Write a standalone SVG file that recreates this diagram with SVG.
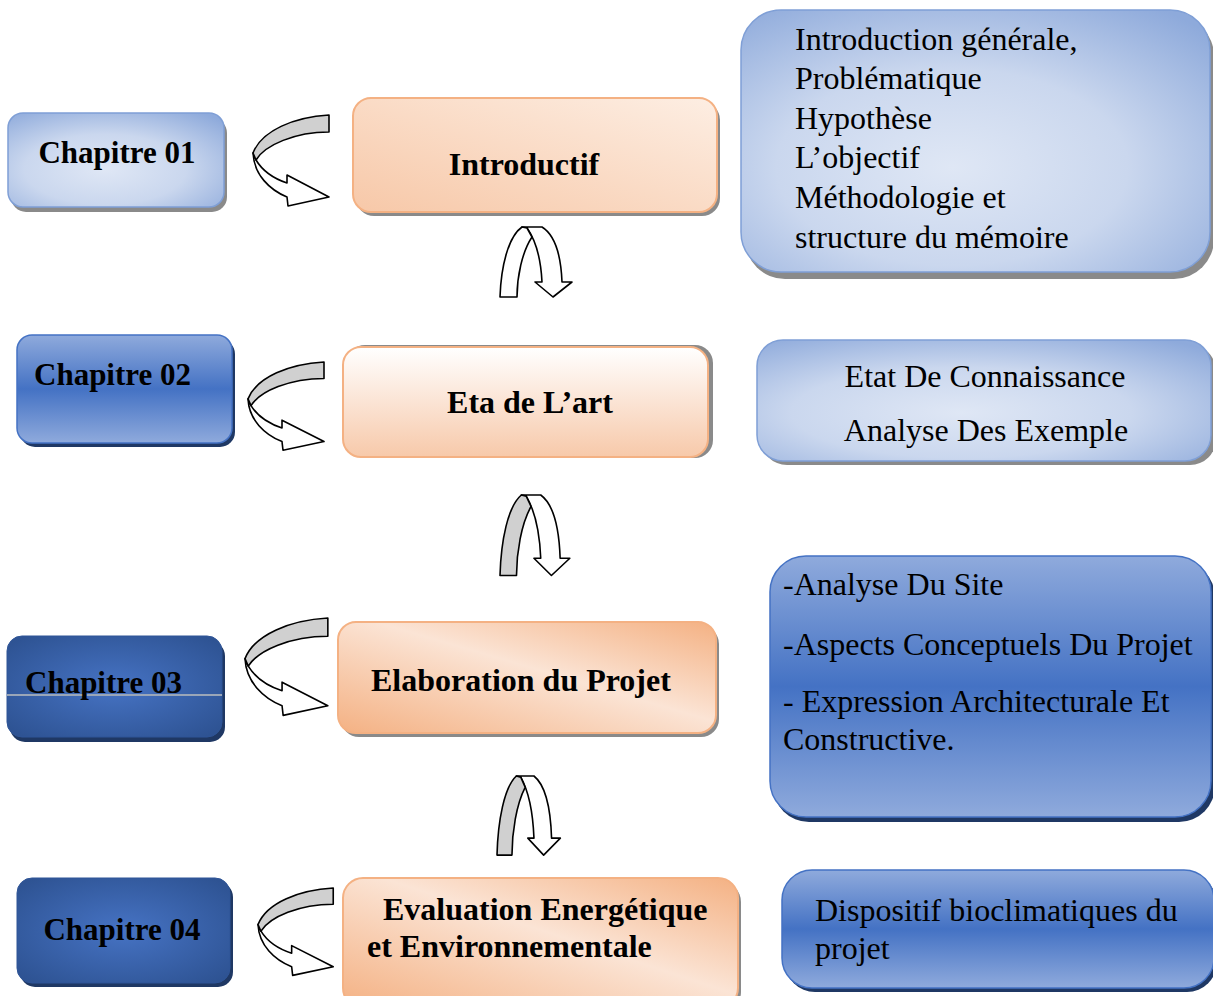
<svg xmlns="http://www.w3.org/2000/svg" width="1213" height="996" viewBox="0 0 1213 996">
<defs>
<radialGradient id="gLight" cx="45%" cy="60%" r="75%">
<stop offset="0" stop-color="#dfe7f5"/><stop offset="0.5" stop-color="#cad7ee"/><stop offset="1" stop-color="#8eaadb"/>
</radialGradient>
<linearGradient id="gMed" x1="0" y1="0" x2="0" y2="1">
<stop offset="0" stop-color="#8faadc"/><stop offset="0.5" stop-color="#4472c4"/><stop offset="1" stop-color="#8faadc"/>
</linearGradient>
<radialGradient id="gDark" cx="50%" cy="50%" r="65%">
<stop offset="0" stop-color="#4673c4"/><stop offset="1" stop-color="#2e5393"/>
</radialGradient>
<linearGradient id="gOr1" x1="1" y1="0" x2="0" y2="1">
<stop offset="0" stop-color="#fdeee3"/><stop offset="1" stop-color="#f7c8a8"/>
</linearGradient>
<linearGradient id="gOr2" x1="0" y1="0" x2="0" y2="1">
<stop offset="0" stop-color="#ffffff"/><stop offset="1" stop-color="#f7c9aa"/>
</linearGradient>
<linearGradient id="gOr3" x1="0" y1="1" x2="1" y2="0">
<stop offset="0" stop-color="#f4b183"/><stop offset="0.55" stop-color="#fbe4d5"/><stop offset="1" stop-color="#f4b183"/>
</linearGradient>
<g id="larrow">
<path class="wh" d="M0,38 C1,60 17,75 34,82 L35,91 L76,82 L34,60 L34,68 C19,63 9,55 3,45 Z"/>
<path class="gr" d="M76,0 C42,2 9,15 0,38 L3,45 C12,30 42,17 76,17 Z"/>
</g>
<g id="varrowW">
<path class="wh" d="M22,0 L42,0 C55,8 61,30 62,55 L72,55 L53,70 L35,55 L42,55 C41,35 37,15 27,1 Z"/>
<path class="wh" d="M0,70 L17,70 C17,50 22,25 32,10 L27,1 L22,0 C8,10 1,40 0,70 Z"/>
</g>
<g id="varrowG">
<path class="wh" d="M22,0 L42,0 C55,8 61,30 62,55 L72,55 L53,70 L35,55 L42,55 C41,35 37,15 27,1 Z"/>
<path class="gr" d="M0,70 L17,70 C17,50 22,25 32,10 L27,1 L22,0 C8,10 1,40 0,70 Z"/>
</g>
</defs>
<style>
.wh{fill:#ffffff;stroke:#000;stroke-width:1.6;stroke-linejoin:round;vector-effect:non-scaling-stroke}
.gr{fill:#d0d0d0;stroke:#000;stroke-width:1.6;stroke-linejoin:round;vector-effect:non-scaling-stroke}
.light{fill:url(#gLight);stroke:#7f9fd6;stroke-width:1.5}
.med{fill:url(#gMed);stroke:#4472c4;stroke-width:1.5}
.dark{fill:url(#gDark);stroke:#2f5597;stroke-width:1}
.shg{fill:#8a8a8a}
.shb{fill:#1f3864}
.or{stroke:#f4b183;stroke-width:2}
.b{font-family:"Liberation Serif","Times New Roman",serif;font-weight:bold;font-size:32px;fill:#000}
.c{font-family:"Liberation Serif","Times New Roman",serif;font-weight:bold;font-size:31px;fill:#000}
.t{font-family:"Liberation Serif","Times New Roman",serif;font-size:32px;fill:#000}
</style>
<rect width="1213" height="996" fill="#ffffff"/>

<g id="connectors">
<use href="#larrow" transform="translate(253,115)"/>
<use href="#larrow" transform="translate(248,362) scale(1.0,0.97)"/>
<use href="#larrow" transform="translate(245,618) scale(1.09,1.07)"/>
<use href="#larrow" transform="translate(258,888) scale(0.99,0.96)"/>
<use href="#varrowW" transform="translate(500,227)"/>
<use href="#varrowG" transform="translate(500,495) scale(0.97,1.15)"/>
<use href="#varrowG" transform="translate(497,776) scale(0.88,1.13)"/>
</g>

<g id="ch01">
<rect class="shg" x="11" y="118" width="216" height="94" rx="15"/>
<rect class="light" x="8" y="113" width="216" height="94" rx="15"/>
<text class="c" x="117" y="163" text-anchor="middle">Chapitre 01</text>
</g>
<g id="ch02">
<rect class="shb" x="20" y="339" width="215" height="108" rx="15"/>
<rect class="med" x="17" y="335" width="215" height="108" rx="15"/>
<text class="c" x="34" y="385">Chapitre 02</text>
</g>
<g id="ch03">
<rect class="shb" x="10" y="641" width="215" height="101" rx="15"/>
<rect class="dark" x="7" y="636" width="215" height="101" rx="15"/>
<line x1="7" y1="695" x2="222" y2="695" stroke="#9aa6b8" stroke-width="2"/>
<text class="c" x="25" y="693">Chapitre 03</text>
</g>
<g id="ch04">
<rect class="shb" x="20" y="882" width="213" height="105" rx="15"/>
<rect class="dark" x="17" y="878" width="213" height="105" rx="15"/>
<text class="c" x="122" y="940" text-anchor="middle">Chapitre 04</text>
</g>

<g id="introductif">
<rect class="shg" x="356" y="102" width="364" height="114" rx="18"/>
<rect class="or" fill="url(#gOr1)" x="353" y="98" width="364" height="114" rx="18"/>
<text class="b" x="524" y="175" text-anchor="middle">Introductif</text>
</g>
<g id="etat-art">
<rect class="shg" x="347" y="345" width="366" height="113" rx="18"/>
<rect class="or" fill="url(#gOr2)" x="343" y="347" width="365" height="110" rx="18"/>
<text class="b" x="530" y="413" text-anchor="middle">Eta de L’art</text>
</g>
<g id="elaboration">
<rect class="shg" x="341" y="626" width="378" height="111" rx="18"/>
<rect class="or" fill="url(#gOr3)" x="338" y="622" width="378" height="111" rx="18"/>
<text class="b" x="371" y="691">Elaboration du Projet</text>
</g>
<g id="evaluation">
<rect class="shg" x="346" y="882" width="395" height="130" rx="20"/>
<rect class="or" fill="url(#gOr3)" x="343" y="878" width="395" height="130" rx="20"/>
<text class="b" x="383" y="920">Evaluation Energétique</text>
<text class="b" x="367" y="957">et Environnementale</text>
</g>

<g id="desc01">
<rect class="shg" x="745" y="16" width="469" height="263" rx="40"/>
<rect class="light" x="741" y="10" width="469" height="262" rx="40"/>
<text class="t" x="795" y="50">Introduction générale,</text>
<text class="t" x="795" y="89">Problématique</text>
<text class="t" x="795" y="129">Hypothèse</text>
<text class="t" x="795" y="168">L’objectif</text>
<text class="t" x="795" y="208">Méthodologie et</text>
<text class="t" x="795" y="248">structure du mémoire</text>
</g>
<g id="desc02">
<rect class="shg" x="761" y="345" width="455" height="120" rx="26"/>
<rect class="light" x="757" y="340" width="454" height="121" rx="26"/>
<text class="t" x="985" y="387" text-anchor="middle">Etat De Connaissance</text>
<text class="t" x="986" y="441" text-anchor="middle">Analyse Des Exemple</text>
</g>
<g id="desc03">
<rect class="shb" x="773" y="561" width="442" height="261" rx="36"/>
<rect class="med" x="770" y="556" width="441" height="261" rx="36"/>
<text class="t" x="783" y="595">-Analyse Du Site</text>
<text class="t" x="783" y="655">-Aspects Conceptuels Du Projet</text>
<text class="t" x="783" y="712">- Expression Architecturale Et</text>
<text class="t" x="783" y="750">Constructive.</text>
</g>
<g id="desc04">
<rect class="shb" x="785" y="874" width="432" height="118" rx="30"/>
<rect class="med" x="782" y="870" width="432" height="118" rx="30"/>
<text class="t" x="815" y="921">Dispositif bioclimatiques du</text>
<text class="t" x="815" y="959">projet</text>
</g>
</svg>
